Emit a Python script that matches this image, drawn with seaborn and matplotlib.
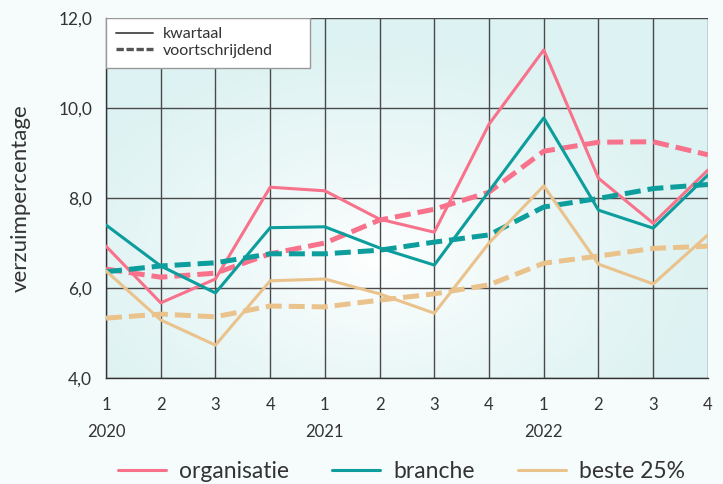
import numpy as np
import pandas as pd
import matplotlib
matplotlib.use("Agg")
import matplotlib.pyplot as plt
import seaborn as sns
from matplotlib.lines import Line2D
from matplotlib.patches import Rectangle

# data
quarters = ["1", "2", "3", "4", "1", "2", "3", "4", "1", "2", "3", "4"]
years = ["2020", "2021", "2022"]
org_kw = [6.93, 5.67, 6.20, 8.24, 8.16, 7.53, 7.24, 9.64, 11.29, 8.44, 7.44, 8.62]
org_vs = [6.42, 6.24, 6.33, 6.76, 7.00, 7.51, 7.75, 8.13, 9.04, 9.24, 9.25, 8.96]
bra_kw = [7.40, 6.49, 5.89, 7.34, 7.36, 6.89, 6.51, 8.15, 9.78, 7.73, 7.33, 8.51]
bra_vs = [6.36, 6.49, 6.56, 6.76, 6.76, 6.84, 7.02, 7.18, 7.80, 7.99, 8.21, 8.30]
best_kw = [6.38, 5.29, 4.73, 6.16, 6.20, 5.87, 5.44, 7.00, 8.27, 6.53, 6.09, 7.18]
best_vs = [5.33, 5.42, 5.36, 5.60, 5.58, 5.73, 5.87, 6.07, 6.55, 6.71, 6.88, 6.93]

series = ["organisatie", "branche", "beste 25%"]
colors = {"organisatie": "#f7728a", "branche": "#0c9d9c", "beste 25%": "#eac28c"}

rows = []
for name, kw, vs in [("organisatie", org_kw, org_vs), ("branche", bra_kw, bra_vs),
                     ("beste 25%", best_kw, best_vs)]:
    for i in range(len(quarters)):
        rows.append({"x": i, "reeks": name, "soort": "kwartaal", "waarde": kw[i]})
        rows.append({"x": i, "reeks": name, "soort": "voortschrijdend", "waarde": vs[i]})
df = pd.DataFrame(rows)

sns.set_style("white")
plt.rcParams["font.family"] = ["Lato", "DejaVu Sans"]
txt = "#333333"

fig = plt.figure(figsize=(7.23, 4.84), dpi=100)
fig.patch.set_facecolor("#f6fbfb")
ax = fig.add_axes([0.1466, 0.219, 0.8325, 0.7438])

# soft teal background, lighter in the middle
gx, gy = np.meshgrid(np.linspace(-1, 1, 300), np.linspace(-1, 1, 200))
r = np.clip(np.sqrt(((gx + 0.1) / 1.1) ** 2 + ((gy + 0.35) / 1.2) ** 2), 0, 1)
c0 = np.array([1.0, 1.0, 1.0])
c1 = np.array([0.87, 0.95, 0.95])
img = c0 + (c1 - c0) * r[..., None] ** 0.8
ax.imshow(img, extent=[0, 11, 4, 12], aspect="auto", origin="lower", zorder=0)

for name in series:
    sub = df[df.reeks == name]
    sns.lineplot(data=sub[sub.soort == "kwartaal"], x="x", y="waarde", color=colors[name],
                 lw=2.2, ax=ax, zorder=3, legend=False)
    sns.lineplot(data=sub[sub.soort == "voortschrijdend"], x="x", y="waarde", color=colors[name],
                 lw=3.6, ax=ax, zorder=3, legend=False)
for l in ax.lines:
    if l.get_linewidth() > 3:
        l.set_dashes((3.2, 1.4))

ax.set_xlim(0, 11)
ax.set_ylim(4, 12)
ax.set_xticks(range(len(quarters)))
ax.set_xticklabels(quarters)
yt = [4, 6, 8, 10, 12]
ax.set_yticks(yt)
ax.set_yticklabels([f"{v:.1f}".replace(".", ",") for v in yt])
ax.grid(True, color="#4a4a4a", lw=1.0)
for l in ax.get_xgridlines() + ax.get_ygridlines():
    l.set_zorder(1)
for s in ["top", "right"]:
    ax.spines[s].set_visible(False)
for s in ["left", "bottom"]:
    ax.spines[s].set_color("#333333")
    ax.spines[s].set_linewidth(1.0)
ax.tick_params(axis="both", direction="out", length=6, width=1, color="#333333",
               labelcolor=txt)
ax.tick_params(axis="y", labelsize=12.5, pad=4)
ax.tick_params(axis="x", labelsize=12, pad=8)
ax.set_xlabel("")
ax.set_ylabel("verzuimpercentage", fontsize=16, color=txt, labelpad=20)

for i, yr in enumerate(years):
    ax.text(i * 4, -0.15, yr, transform=ax.get_xaxis_transform(), ha="center", va="center",
            fontsize=12, color=txt)

# legend for line style, in a wider white box
box = Rectangle((0, 0.861), 0.339, 0.139, transform=ax.transAxes, facecolor="white",
                edgecolor="#999999", lw=1.0, zorder=4)
ax.add_patch(box)
h1 = [Line2D([], [], color="#555555", lw=1.4),
      Line2D([], [], color="#555555", lw=2.4, dashes=(2.2, 0.8))]
lg = ax.legend(h1, ["kwartaal", "voortschrijdend"], loc="upper left",
               bbox_to_anchor=(0.005, 0.995), frameon=False,
               fontsize=11.5, handlelength=2.3, borderaxespad=0, labelspacing=0.15,
               borderpad=0.45, handletextpad=0.6)
for t in lg.get_texts():
    t.set_color(txt)
lg.set_zorder(5)

# legend for series
h2 = [Line2D([], [], color=colors[n], lw=2.2) for n in series]
lg2 = fig.legend(h2, series, loc="center", bbox_to_anchor=(0.555, 0.025), ncol=3,
                 frameon=False, fontsize=16.5, handlelength=2.1, columnspacing=1.9,
                 handletextpad=0.55)
for t in lg2.get_texts():
    t.set_color(txt)

fig.savefig("out.png", dpi=100, facecolor=fig.get_facecolor())
